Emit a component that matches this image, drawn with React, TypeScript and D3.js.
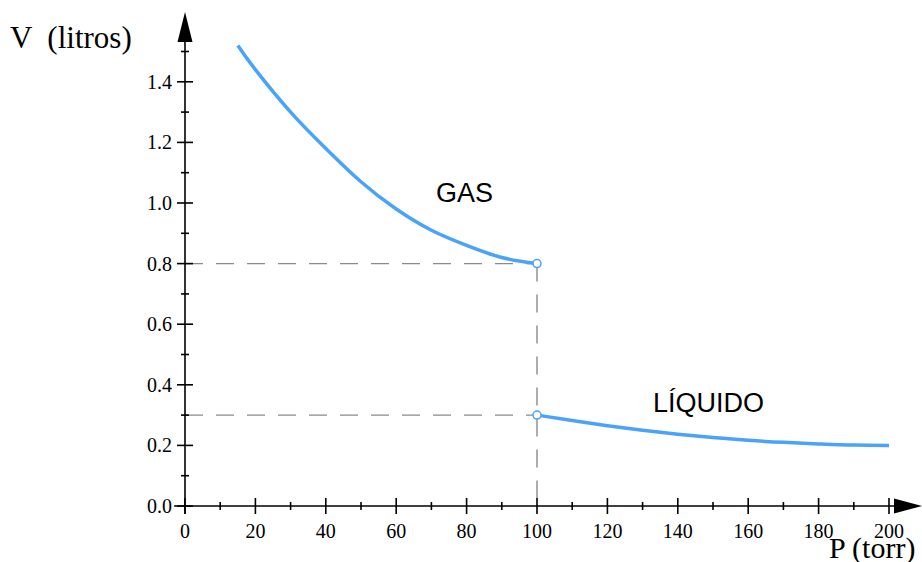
import React from "react";
import * as d3 from "d3";

// Data
const gasP = [15, 20, 30, 40, 50, 60, 70, 80, 90, 100];
const gasV = [1.52, 1.44, 1.3, 1.18, 1.07, 0.98, 0.91, 0.86, 0.82, 0.8];
const liqP = [100, 110, 120, 130, 140, 150, 160, 170, 180, 190, 200];
const liqV = [0.3, 0.282, 0.265, 0.25, 0.237, 0.226, 0.217, 0.21, 0.205, 0.201, 0.2];
const xMajorTicks = [0, 20, 40, 60, 80, 100, 120, 140, 160, 180, 200];
const xMinorTicks = [10, 30, 50, 70, 90, 110, 130, 150, 170, 190];
const yMajorTicks = [0, 0.2, 0.4, 0.6, 0.8, 1.0, 1.2, 1.4];
const yMinorTicks = [0.1, 0.3, 0.5, 0.7, 0.9, 1.1, 1.3, 1.5];
const transitionP = 100;
const gasEndV = 0.8;
const liqStartV = 0.3;
const yTitle = "V  (litros)";
const xTitle = "P (torr)";
const gasLabel = "GAS";
const liqLabel = "LÍQUIDO";

const W = 922;
const H = 562;
const BLUE = "#4aa3fa";
const GRAY = "#8a8a8a";

export default function App() {
  const x = d3.scaleLinear().domain([0, 200]).range([185, 889]);
  const y = d3.scaleLinear().domain([0, 1.5]).range([506, 51.5]);
  const line = d3
    .line<[number, number]>()
    .x((d) => x(d[0]))
    .y((d) => y(d[1]))
    .curve(d3.curveNatural);
  const gasPts = gasP.map((p, i) => [p, gasV[i]] as [number, number]);
  const liqPts = liqP.map((p, i) => [p, liqV[i]] as [number, number]);
  const x0 = x(0);
  const y0 = y(0);
  const serif = "'Liberation Serif', 'Times New Roman', serif";
  const sans = "'Liberation Sans', Arial, sans-serif";
  const axisW = 1.6;

  return (
    <svg
      width={W}
      height={H}
      style={{ position: "absolute", left: 0, top: 0, background: "#fff" }}
    >
      <rect width={W} height={H} fill="#fff" />
      {/* dashed guides */}
      <g stroke={GRAY} strokeWidth={1.4} strokeDasharray="18,13" fill="none">
        <line x1={x0} y1={y(gasEndV)} x2={x(transitionP)} y2={y(gasEndV)} />
        <line x1={x0} y1={y(liqStartV)} x2={x(transitionP)} y2={y(liqStartV)} />
        <line x1={x(transitionP)} y1={y(gasEndV)} x2={x(transitionP)} y2={y0 + 6} />
      </g>
      {/* axes */}
      <g stroke="#000" strokeWidth={axisW}>
        <line x1={174} y1={y0} x2={898} y2={y0} />
        <line x1={x0} y1={514} x2={x0} y2={40} />
        {xMajorTicks.map((t) => (
          <line key={"xm" + t} x1={x(t)} x2={x(t)} y1={y0 - 8} y2={y0 + 8} />
        ))}
        {xMinorTicks.map((t) => (
          <line key={"xn" + t} x1={x(t)} x2={x(t)} y1={y0 - 4} y2={y0 + 4} />
        ))}
        {yMajorTicks.map((t) => (
          <line key={"ym" + t} x1={x0 - 8} x2={x0 + 8} y1={y(t)} y2={y(t)} />
        ))}
        {yMinorTicks.map((t) => (
          <line key={"yn" + t} x1={x0 - 4} x2={x0 + 4} y1={y(t)} y2={y(t)} />
        ))}
      </g>
      <path d={`M${x0},12 L${x0 - 7.5},42 L${x0 + 7.5},42 Z`} fill="#000" />
      <path d={`M922,${y0} L894,${y0 - 7.5} L894,${y0 + 7.5} Z`} fill="#000" />
      {/* tick labels */}
      <g fontFamily={serif} fontSize={20} fill="#000">
        {xMajorTicks.map((t) => (
          <text key={"xl" + t} x={x(t)} y={538} textAnchor="middle">
            {t}
          </text>
        ))}
        {yMajorTicks.map((t) => (
          <text key={"yl" + t} x={172} y={y(t) + 7} textAnchor="end">
            {t.toFixed(1)}
          </text>
        ))}
      </g>
      {/* axis titles */}
      <text x={10} y={48} fontFamily={serif} fontSize={31} fill="#000" style={{ whiteSpace: "pre" }}>
        {yTitle}
      </text>
      <text x={829} y={558} fontFamily={serif} fontSize={30} fill="#000">
        {xTitle}
      </text>
      {/* curves */}
      <path d={line(gasPts) || ""} fill="none" stroke={BLUE} strokeWidth={3.5} />
      <path d={line(liqPts) || ""} fill="none" stroke={BLUE} strokeWidth={3.5} />
      <circle cx={x(transitionP)} cy={y(gasEndV)} r={4} fill="#fff" stroke={BLUE} strokeWidth={1.5} />
      <circle cx={x(transitionP)} cy={y(liqStartV)} r={4} fill="#fff" stroke={BLUE} strokeWidth={1.5} />
      {/* region labels */}
      <text x={436} y={201.5} fontFamily={sans} fontSize={27} fill="#000">
        {gasLabel}
      </text>
      <text x={653} y={412} fontFamily={sans} fontSize={27} fill="#000">
        {liqLabel}
      </text>
    </svg>
  );
}
